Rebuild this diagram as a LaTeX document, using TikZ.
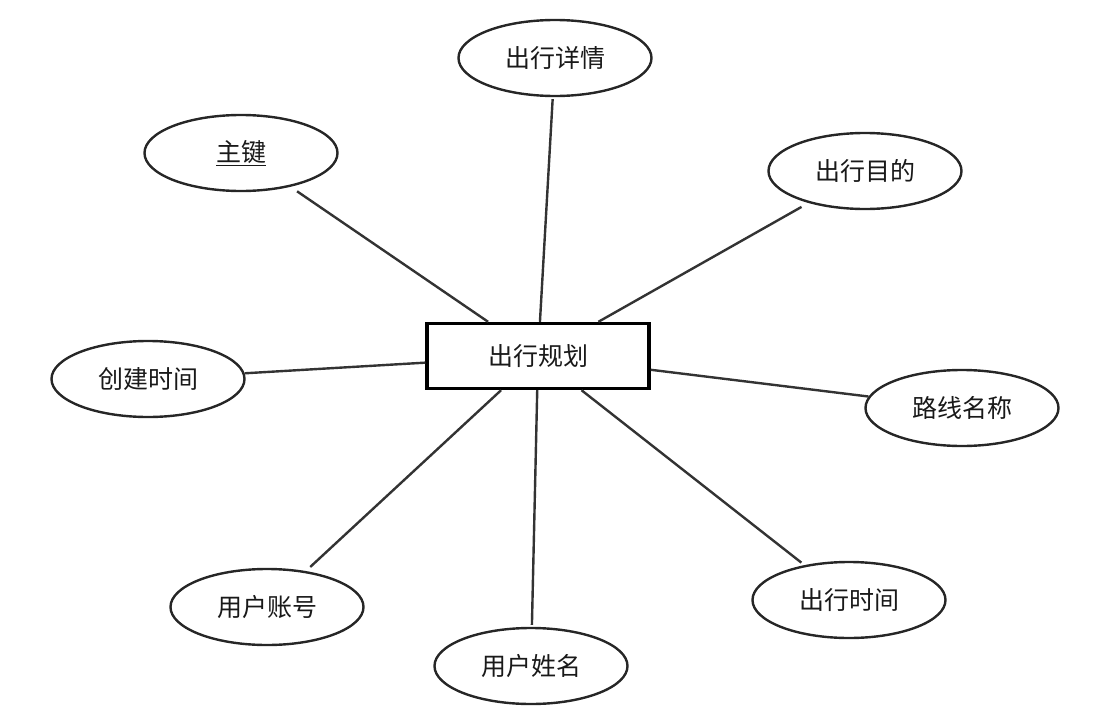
\documentclass[tikz,border=0pt]{standalone}
\usepackage{fontspec}
\usetikzlibrary{shapes.geometric}
\newfontfamily\cjk{Noto Sans CJK SC}
\begin{document}
\begin{tikzpicture}[x=1pt,y=-1pt,
  attr/.style={draw=black!85,line width=2.4pt,ellipse,minimum width=193pt,minimum height=76pt,inner sep=0pt,font=\cjk\fontsize{25}{28}\selectfont,text=black!90},
  ent/.style={draw=black,line width=3.4pt,rectangle,minimum width=222pt,minimum height=65pt,inner sep=0pt,font=\cjk\fontsize{25}{28}\selectfont,text=black!90},
  link/.style={draw=black!80,line width=2.4pt}]
\useasboundingbox (0,0) rectangle (1093,720);
\node[ent] (c) at (538,356) {出行规划};
\node[attr] (xq) at (555,58) {出行详情};
\node[attr] (zj) at (241,153) {\underline{主键}};
\node[attr] (md) at (865,171) {出行目的};
\node[attr] (cj) at (148,379) {创建时间};
\node[attr] (lx) at (962,408) {路线名称};
\node[attr] (zh) at (267,607) {用户账号};
\node[attr] (xm) at (531,666) {用户姓名};
\node[attr] (sj) at (849,600) {出行时间};
\draw[link,shorten <=2pt] (xq) -- (c);
\draw[link,shorten <=8pt] (zj) -- (c);
\draw[link,shorten <=8pt] (md) -- (c);
\draw[link] (cj) -- (c);
\draw[link] (lx) -- (c);
\draw[link,shorten <=6pt] (zh) -- (c);
\draw[link,shorten <=2pt] (xm) -- (c);
\draw[link,shorten <=4pt] (sj) -- (c);
\end{tikzpicture}
\end{document}
